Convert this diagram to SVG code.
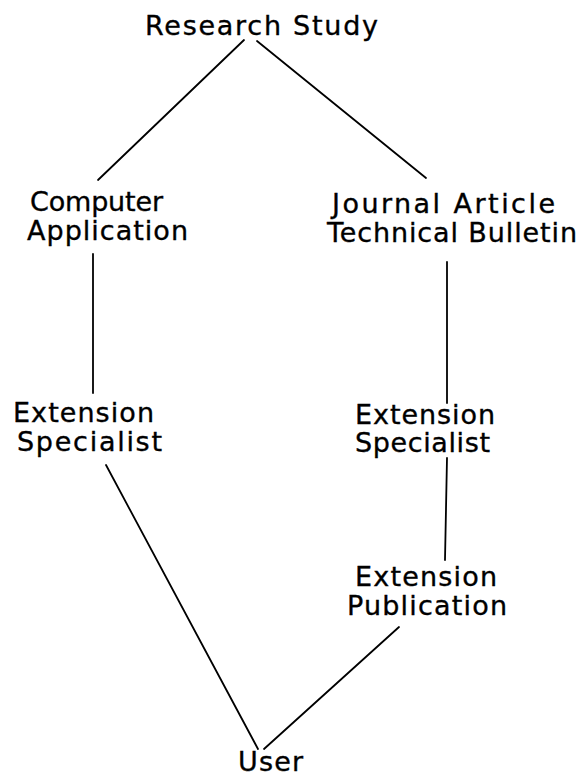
<svg xmlns="http://www.w3.org/2000/svg" width="585" height="778" viewBox="0 0 585 778">
<style>
text { font-family: "DejaVu Sans", "Liberation Sans", sans-serif; font-size: 27px; fill: #000; stroke: #000; stroke-width: 0.35; }
.c { stroke: #000; stroke-width: 1.8; fill: none; stroke-linecap: round; }
</style>
<rect width="585" height="778" fill="#fff"/>
<g id="connectors">
<line class="c" x1="244" y1="40" x2="98" y2="180"/>
<line class="c" x1="257" y1="41" x2="426" y2="178"/>
<line class="c" x1="93" y1="254" x2="93" y2="393"/>
<line class="c" x1="447" y1="262" x2="447" y2="403"/>
<line class="c" x1="447" y1="458" x2="445" y2="560"/>
<line class="c" x1="106" y1="465" x2="258" y2="749"/>
<line class="c" x1="399" y1="627" x2="264" y2="749"/>
</g>
<g id="research-study">
<text x="145" y="35" textLength="233" lengthAdjust="spacing">Research Study</text>
</g>
<g id="computer-application">
<text x="30" y="211" textLength="133" lengthAdjust="spacing">Computer</text>
<text x="27" y="240" textLength="161" lengthAdjust="spacing">Application</text>
</g>
<g id="journal-article">
<text x="332" y="213" textLength="223" lengthAdjust="spacing">Journal Article</text>
<text x="327" y="242" textLength="250" lengthAdjust="spacing">Technical Bulletin</text>
</g>
<g id="extension-specialist-left">
<text x="13" y="422" textLength="141" lengthAdjust="spacing">Extension</text>
<text x="17" y="451" textLength="145" lengthAdjust="spacing">Specialist</text>
</g>
<g id="extension-specialist-right">
<text x="355" y="424" textLength="140" lengthAdjust="spacing">Extension</text>
<text x="355" y="452" textLength="135" lengthAdjust="spacing">Specialist</text>
</g>
<g id="extension-publication">
<text x="355" y="586" textLength="142" lengthAdjust="spacing">Extension</text>
<text x="347" y="615" textLength="160" lengthAdjust="spacing">Publication</text>
</g>
<g id="user">
<text x="238" y="771" textLength="65" lengthAdjust="spacing">User</text>
</g>
</svg>
